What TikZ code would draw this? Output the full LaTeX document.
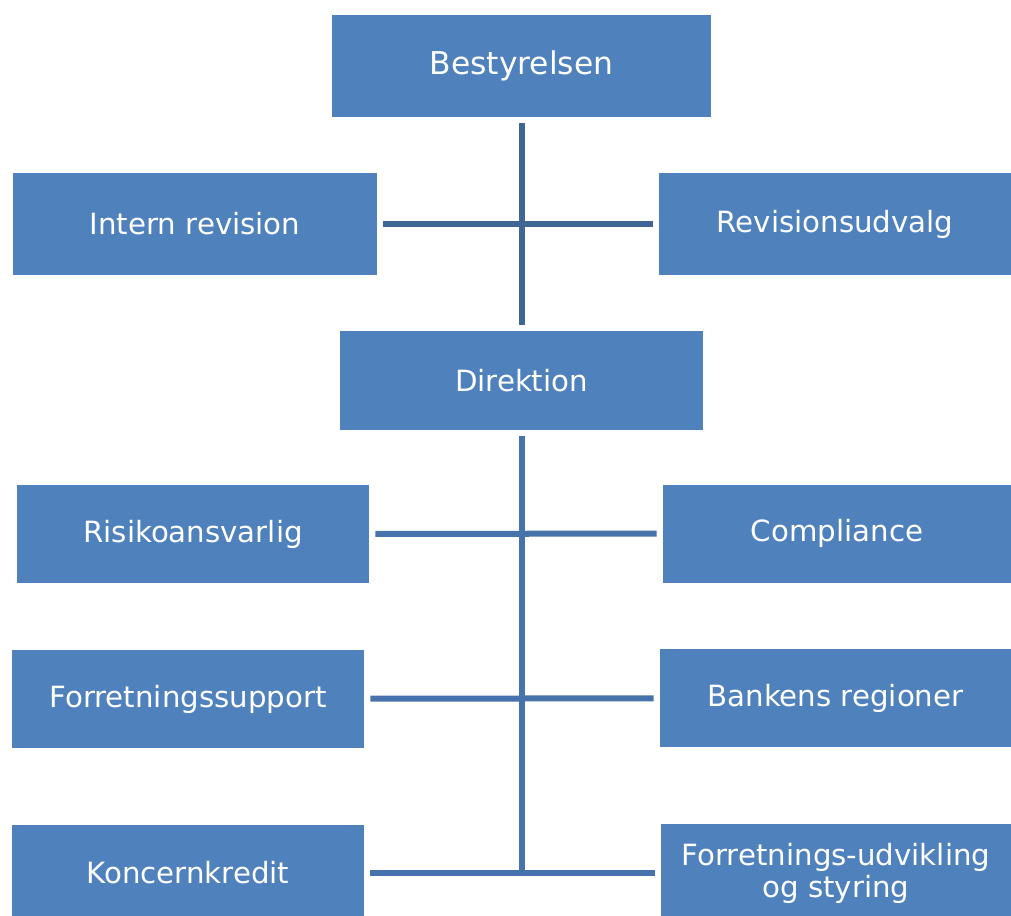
\documentclass[tikz,border=0pt]{standalone}
\usepackage{fontspec}
\setmainfont{DejaVu Sans}
\usetikzlibrary{calc}
\definecolor{boxblue}{HTML}{4F81BD}
\definecolor{linetop}{HTML}{3F6595}
\definecolor{linelow}{HTML}{4673AB}

\begin{document}
\begin{tikzpicture}[x=0.025cm, y=-0.025cm,
		orgbox/.style={fill=boxblue, text=white, inner sep=0pt, align=center,
			font=\fontsize{20.8}{22.7}\selectfont},
		boxsize/.style 2 args={minimum width=#1*0.025cm, minimum height=#2*0.025cm},
		linktop/.style={draw=linetop, line width=0.15cm, shorten <=0.15cm, shorten >=0.15cm},
		linklow/.style={draw=linelow, line width=0.15cm, shorten <=0.15cm, shorten >=0.15cm}]
		%%%%% START %%%%%
		
		\useasboundingbox (0, 0) rectangle (1011, 915);
		
		% top part
		\node[orgbox, boxsize={379}{102}, font=\fontsize{22.3}{26}\selectfont] (best) at (521.5, 66) {Bestyrelsen};
		\node[orgbox, boxsize={364}{102}] (intern) at (195, 224) {Intern revision};
		\node[orgbox, boxsize={352}{102}] (revudv) at (835, 224) {Revisionsudvalg};
		\node[orgbox, boxsize={363}{99}] (dir) at (521.5, 380.5) {Direktion};
		
		\draw[linktop] (best.south) -- (dir);
		\draw[linktop] (intern) -- (revudv);
		
		% staff units
		\node[orgbox, boxsize={352}{98}] (risiko) at (193, 534) {Risikoansvarlig};
		\node[orgbox, boxsize={348}{98}] (compl) at (837, 533.5) {Compliance};
		\node[orgbox, boxsize={352}{98}] (support) at (188, 699) {Forretningssupport};
		\node[orgbox, boxsize={351}{98}] (region) at (835.5, 698) {Bankens regioner};
		\node[orgbox, boxsize={352}{96}] (kredit) at (188, 873) {Koncernkredit};
		\node[orgbox, boxsize={350}{98}] (udvik) at (836, 873) {Forretnings-udvikling\\og styring};
		
		\draw[linklow, shorten >=0pt] (dir) -- (dir |- kredit);
		\draw[linklow] (risiko) -- (compl);
		\draw[linklow] (support) -- (region);
		\draw[linklow] (kredit) -- (udvik);
		
		%%%%% END %%%%%
	\end{tikzpicture}
\end{document}
